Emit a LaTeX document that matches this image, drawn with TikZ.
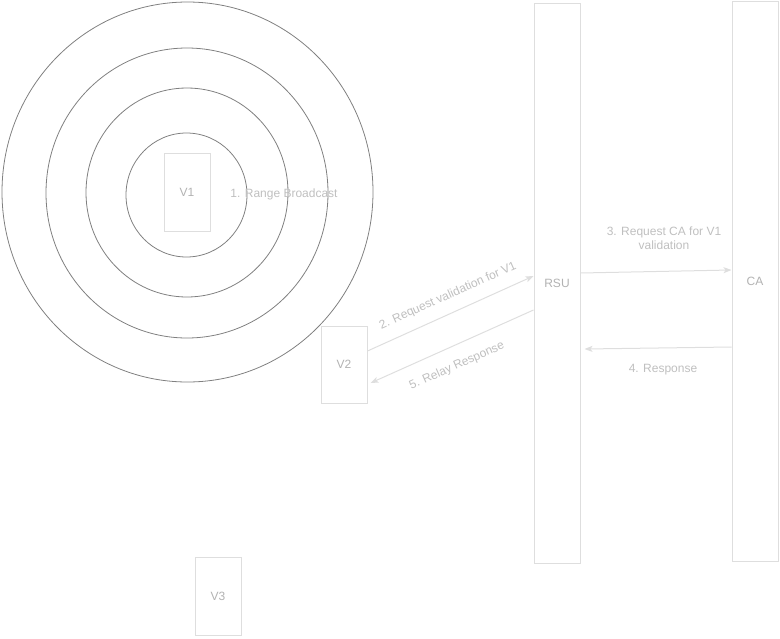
\documentclass[tikz,border=0pt]{standalone}
\usepackage{fontspec}
\setmainfont{Liberation Sans}
\usetikzlibrary{arrows.meta}

\begin{document}
\begin{tikzpicture}[x=1pt,y=-1pt,
  box/.style={draw=black!13, line width=1pt, minimum width=46pt, text=black!30, font=\fontsize{12}{14}\selectfont},
  ring/.style={draw=black!50, line width=0.8pt},
  msg/.style={draw=black!13, line width=1pt, -{Stealth[length=8pt,width=6pt,inset=2pt]}},
  lbl/.style={text=black!25, font=\fontsize{12}{14}\selectfont, align=center, inner sep=0pt}]

\useasboundingbox (0,0) rectangle (780,638);

%Range circles
\draw [ring](187.5,192) ellipse [x radius=185.5pt, y radius=190pt]; \draw [ring](187,193) ellipse [x radius=141pt, y radius=145pt];
\draw [ring](187,192.5) ellipse [x radius=101pt, y radius=104.5pt]; \draw [ring](186.5,195) ellipse [x radius=60.5pt, y radius=62pt];

%Vehicles
\node [box, minimum height=78pt] (V1) at (187,192) {V1};
\node [box, minimum height=77pt] (V2) at (344,364.5) {V2};
\node [box, minimum height=78pt] (V3) at (218,596) {V3};

%RSU and CA
\node [box, minimum height=560pt] (RSU) at (557,283) {RSU};
\node [box, minimum height=560pt] (CA) at (755,281) {CA};

\node [lbl] (broadcast) at (284,194) {1. Range Broadcast};

%Messages
\draw [msg] ([yshift=13.5pt]V2.east) -- ([yshift=7pt]RSU.west);
\draw [msg] ([yshift=10pt]RSU.east) -- ([yshift=11pt]CA.west);
\draw [msg] ([yshift=-66pt]CA.west) -- ([xshift=4pt,yshift=-66pt]RSU.east);
\draw [msg] ([yshift=-27pt]RSU.west) -- ([xshift=3pt,yshift=-18.5pt]V2.east);

\node [lbl, rotate=24] (req) at (448,296) {2. Request validation for V1};
\node [lbl] (reqca) at (664,238) {3. Request CA for V1\\validation};
\node [lbl] (resp) at (663,370) {4. Response};
\node [lbl, rotate=24] (relay) at (457,366) {5. Relay Response};

\end{tikzpicture}
\end{document}
